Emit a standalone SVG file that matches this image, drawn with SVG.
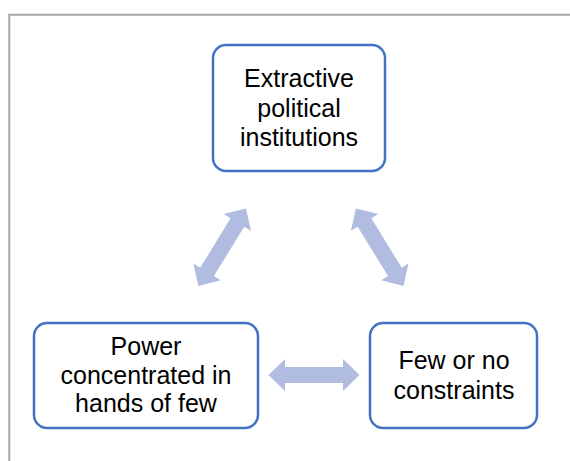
<svg xmlns="http://www.w3.org/2000/svg" width="570" height="461" viewBox="0 0 570 461">
  <style>
    .box { fill: #ffffff; stroke: #4472c4; stroke-width: 2.5; }
    .label { font-family: "Liberation Sans", Arial, sans-serif; font-size: 25px; fill: #000000; text-anchor: middle; }
    .arrow { fill: #b0bce0; }
  </style>
  <defs>
    <path id="dblArrow" d="M -45.5 0 L -29 -16 L -29 -8 L 29 -8 L 29 -16 L 45.5 0 L 29 16 L 29 8 L -29 8 L -29 16 Z"/>
  </defs>
  <rect x="0" y="0" width="570" height="461" fill="#ffffff"/>
  <path d="M 9.3 461 L 9.3 14.8 L 570 14.8" fill="none" stroke="#a6a6a6" stroke-width="2"/>

  <g id="connectors" class="arrow">
    <use href="#dblArrow" transform="translate(222.2,247.2) rotate(-58.5)"/>
    <use href="#dblArrow" transform="translate(379.7,247.2) rotate(58.5)"/>
    <use href="#dblArrow" transform="translate(314,375)"/>
  </g>

  <g id="node-extractive">
    <rect class="box" x="213" y="45" width="172" height="126" rx="13"/>
    <text class="label" x="299" y="87">Extractive</text>
    <text class="label" x="299" y="116.5">political</text>
    <text class="label" x="299" y="146">institutions</text>
  </g>

  <g id="node-power">
    <rect class="box" x="34" y="323" width="224" height="105" rx="13"/>
    <text class="label" x="146" y="355">Power</text>
    <text class="label" x="146" y="383.5">concentrated in</text>
    <text class="label" x="146" y="412">hands of few</text>
  </g>

  <g id="node-constraints">
    <rect class="box" x="370" y="323" width="167" height="105" rx="13"/>
    <text class="label" x="454" y="368.5">Few or no</text>
    <text class="label" x="454" y="398.5">constraints</text>
  </g>
</svg>
